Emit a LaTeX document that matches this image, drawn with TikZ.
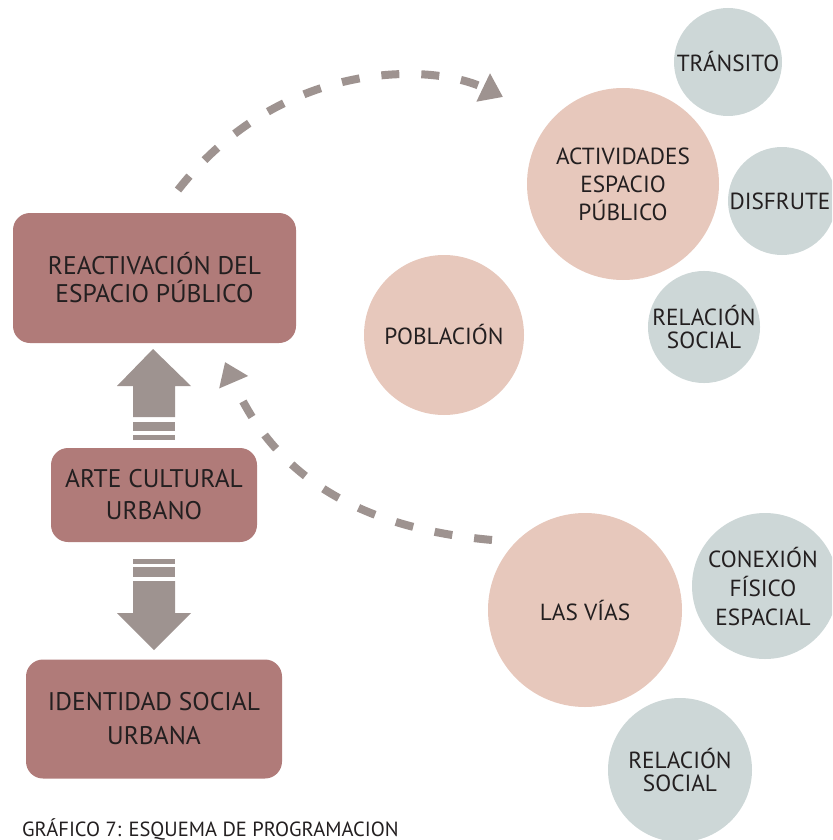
\documentclass[tikz,border=0pt]{standalone}
\usepackage{fontspec}
\setmainfont{PT Sans}
\usetikzlibrary{arrows.meta}
\definecolor{boxfill}{HTML}{B07B79}
\definecolor{peach}{HTML}{E7C8BC}
\definecolor{slate}{HTML}{CDD7D7}
\definecolor{arrowgray}{HTML}{9E9390}
\definecolor{ink}{HTML}{231F20}
\tikzset{
  box/.style={rectangle, rounded corners=17pt, fill=boxfill, text=ink, align=center, inner sep=0pt},
  bigcirc/.style={circle, fill=peach, text=ink, align=center, inner sep=0pt},
  smallcirc/.style={circle, fill=slate, text=ink, align=center, inner sep=0pt},
  dashlink/.style={draw=arrowgray, line width=8pt, dash pattern=on 18pt off 22pt,
    -{Triangle[length=22pt, width=30pt, fill=arrowgray]}},
  blockarrow/.style={fill=arrowgray, draw=none}
}
\begin{document}
\begin{tikzpicture}[x=1pt, y=-1pt]
\path[use as bounding box, clip] (0,0) rectangle (832,840);

% boxes
\node[box, minimum width=283pt, minimum height=130pt, font=\fontsize{25.5}{28}\selectfont] (react) at (154.5,278) {REACTIVACIÓN DEL\\ESPACIO PÚBLICO};
\node[box, minimum width=206pt, minimum height=94pt, font=\fontsize{25.5}{32}\selectfont] (arte) at (154,495) {ARTE CULTURAL\\URBANO};
\node[box, minimum width=256pt, minimum height=119pt, font=\fontsize{25.5}{34}\selectfont] (ident) at (154,719) {IDENTIDAD SOCIAL\\URBANA};

% block arrows
\fill[blockarrow] (153,349) -- (191,386) -- (175,386) -- (175,417) -- (133,417) -- (133,386) -- (117,386) -- cycle;
\fill[blockarrow] (133,422) rectangle (175,431);
\fill[blockarrow] (133,435) rectangle (175,440);
\fill[blockarrow] (133,559) rectangle (175,564);
\fill[blockarrow] (133,567) rectangle (175,577);
\fill[blockarrow] (133,581) -- (175,581) -- (175,613) -- (191,613) -- (154,650) -- (117,613) -- (133,613) -- cycle;

% circles
\node[bigcirc, minimum size=192pt, font=\fontsize{23.3}{28}\selectfont] (activ) at (623,184) {ACTIVIDADES\\ESPACIO\\PÚBLICO};
\node[smallcirc, minimum size=108pt, font=\fontsize{23.3}{28}\selectfont] (trans) at (728,62) {TRÁNSITO};
\node[smallcirc, minimum size=108pt, font=\fontsize{23.3}{28}\selectfont] (disf) at (782,201) {\hspace*{-4pt}DISFRUTE};
\node[smallcirc, minimum size=108pt, font=\fontsize{23.3}{23}\selectfont] (rel1) at (704,327) {RELACIÓN\\SOCIAL};
\node[bigcirc, minimum size=160pt, font=\fontsize{23.3}{28}\selectfont] (pobl) at (444,335) {POBLACIÓN};
\node[bigcirc, minimum size=194pt, font=\fontsize{23.3}{28}\selectfont] (vias) at (585,610) {LAS VÍAS};
\node[smallcirc, minimum size=146pt, font=\fontsize{23.3}{29}\selectfont] (conex) at (765,586) {\hspace*{-4pt}CONEXIÓN\\\hspace*{-4pt}FÍSICO\\\hspace*{-4pt}ESPACIAL};
\node[smallcirc, minimum size=144pt, font=\fontsize{23.3}{23}\selectfont] (rel2) at (680,770) {RELACIÓN\\SOCIAL};

% dashed connectors
\coordinate (a1) at (178,190);
\coordinate (a2) at (503,97);
\draw[dashlink] (a1) .. controls (280,60) and (430,62) .. (a2);
\coordinate (b1) at (492,540);
\coordinate (b2) at (225,362);
\draw[dashlink] (b1) .. controls (380,530) and (280,490) .. (b2);

% caption
\node[anchor=base west, inner sep=0pt, text=ink, font=\fontsize{20.5}{24}\selectfont] (cap) at (22,836) {GRÁFICO 7: ESQUEMA DE PROGRAMACION};
\end{tikzpicture}
\end{document}
